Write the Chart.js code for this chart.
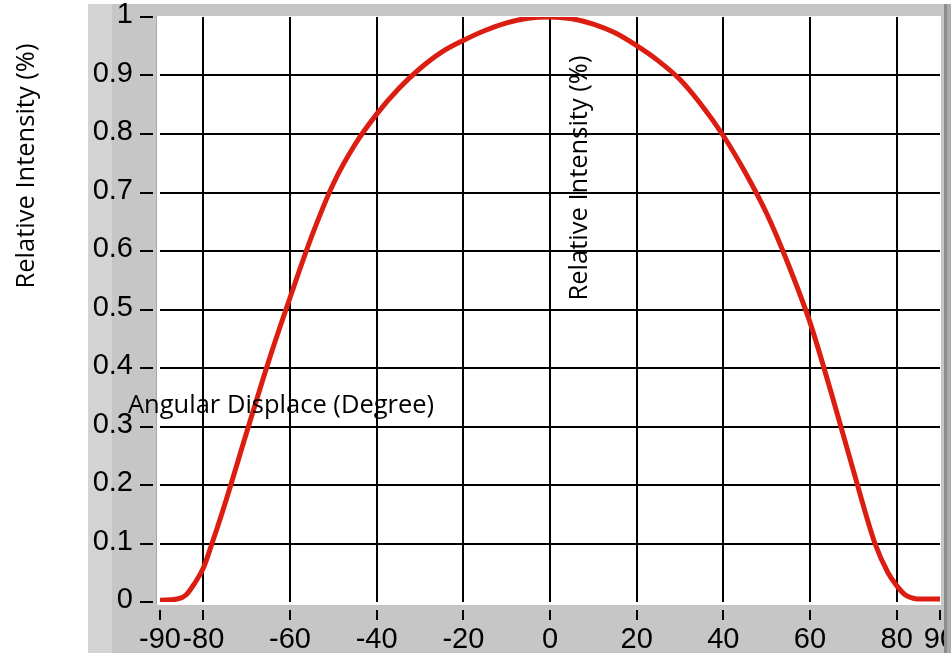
<!DOCTYPE html>
<html>
<head>
<meta charset="utf-8">
<script src="https://cdn.jsdelivr.net/npm/chart.js@4.4.1/dist/chart.umd.min.js"></script>
<style>
  html, body { margin: 0; padding: 0; background: #fff; }
  #chart { display: block; }
</style>
</head>
<body>
<canvas id="chart" width="951" height="656"></canvas>
<script>
// angular response of the emitter, normalised to its peak
const angles = [-90, -86, -84, -82, -80, -78, -75, -70, -65, -60, -55, -50, -45, -40, -35, -30, -25, -20, -15, -10, -5,
                0, 5, 10, 15, 20, 25, 30, 35, 40, 45, 50, 55, 60, 65, 70, 75, 78, 80, 82, 84, 86, 90];
const intensity = [0.003, 0.005, 0.012, 0.032, 0.058, 0.1, 0.168, 0.29, 0.41, 0.52, 0.625, 0.715, 0.782, 0.834, 0.877, 0.912, 0.94, 0.96, 0.977, 0.99, 0.998,
                   1.0, 0.997, 0.988, 0.973, 0.951, 0.925, 0.893, 0.849, 0.797, 0.735, 0.664, 0.577, 0.478, 0.355, 0.225, 0.1, 0.05, 0.028, 0.012, 0.006, 0.005, 0.005];

const xTicks = [-90, -80, -60, -40, -20, 0, 20, 40, 60, 80, 90];
const yTicks = [0, 0.1, 0.2, 0.3, 0.4, 0.5, 0.6, 0.7, 0.8, 0.9, 1];
const yTickLabels = ['0', '0.1', '0.2', '0.3', '0.4', '0.5', '0.6', '0.7', '0.8', '0.9', '1'];

const yTitle = 'Relative Intensity (%)';
const xTitle = 'Angular Displace (Degree)';

const tickFont = { family: "'Liberation Sans', Arial, sans-serif", size: 29 };
const titleFont = "25.5px 'Open Sans', sans-serif";

// grey LabVIEW style panel behind the plot
const panel = {
  id: 'panel',
  beforeDraw(chart) {
    const { ctx, chartArea: a } = chart;
    ctx.save();
    ctx.fillStyle = '#ffffff';
    ctx.fillRect(0, 0, chart.width, chart.height);
    ctx.fillStyle = '#c6c6c6';
    ctx.fillRect(88, 4, chart.width - 88, chart.height - 7);
    ctx.fillStyle = '#d4d4d4';
    ctx.fillRect(88, 4, 24, chart.height - 7);
    ctx.fillStyle = '#ffffff';
    ctx.fillRect(a.left - 3, a.top - 1, a.right - a.left + 4, a.bottom - a.top + 4);
    ctx.strokeStyle = '#a8a8a8';
    ctx.lineWidth = 1;
    ctx.beginPath();
    ctx.moveTo(a.left - 3.5, a.top - 1);
    ctx.lineTo(a.left - 3.5, a.bottom + 3);
    ctx.stroke();
    ctx.restore();
  },
  afterDraw(chart) {
    const { ctx } = chart;
    ctx.save();
    ctx.fillStyle = '#8c8c8c';
    ctx.fillRect(944, 4, 3, chart.height - 7);
    ctx.fillStyle = '#ababab';
    ctx.fillRect(947, 4, 4, chart.height - 7);

    ctx.fillStyle = '#000';
    ctx.font = titleFont;
    ctx.textBaseline = 'middle';
    ctx.textAlign = 'center';
    ctx.translate(27, 166);
    ctx.rotate(-Math.PI / 2);
    ctx.fillText(yTitle, 0, 0);
    ctx.setTransform(1, 0, 0, 1, 0, 0);
    ctx.translate(580, 178);
    ctx.rotate(-Math.PI / 2);
    ctx.fillText(yTitle, 0, 0);
    ctx.setTransform(1, 0, 0, 1, 0, 0);
    ctx.textAlign = 'left';
    ctx.textBaseline = 'alphabetic';
    ctx.fillText(xTitle, 128, 413);
    ctx.restore();
  }
};

new Chart(document.getElementById('chart'), {
  type: 'line',
  data: {
    datasets: [{
      data: angles.map((a, i) => ({ x: a, y: intensity[i] })),
      borderColor: '#dc1e12',
      borderWidth: 5,
      pointRadius: 0,
      cubicInterpolationMode: 'monotone',
      fill: false
    }]
  },
  options: {
    responsive: false,
    animation: false,
    layout: { padding: { top: 17, right: 11, left: 0, bottom: 0 } },
    plugins: { legend: { display: false }, tooltip: { enabled: false } },
    scales: {
      x: {
        type: 'linear',
        min: -90,
        max: 90,
        afterBuildTicks: s => { s.ticks = xTicks.map(v => ({ value: v })); },
        afterFit: s => { s.height = 54; s.paddingLeft = 0; s.paddingRight = 0; },
        border: { display: false },
        grid: {
          color: c => (c.tick && Math.abs(c.tick.value) === 90) ? 'rgba(0,0,0,0)' : '#000',
          lineWidth: 2,
          tickColor: '#000',
          tickLength: 18,
          tickWidth: 2,
          tickBorderDash: [10, 8],
          tickBorderDashOffset: 10
        },
        ticks: {
          color: '#000',
          font: tickFont,
          padding: 3,
          maxRotation: 0,
          autoSkip: false,
          callback: v => String(v)
        }
      },
      y: {
        min: 0,
        max: 1,
        afterBuildTicks: s => { s.ticks = yTicks.map(v => ({ value: v })); },
        afterFit: s => { s.width = 160; s.paddingTop = 0; s.paddingBottom = 0; },
        border: { display: false },
        grid: {
          color: c => (c.tick && (c.tick.value === 0 || c.tick.value === 1)) ? 'rgba(0,0,0,0)' : '#000',
          lineWidth: 2,
          tickColor: '#000',
          tickLength: 20,
          tickWidth: 2,
          tickBorderDash: [13, 20]
        },
        ticks: {
          color: '#000',
          font: tickFont,
          padding: 7,
          labelOffset: -2,
          autoSkip: false,
          callback: (v, i) => yTickLabels[i]
        }
      }
    }
  },
  plugins: [panel]
});
</script>
</body>
</html>
